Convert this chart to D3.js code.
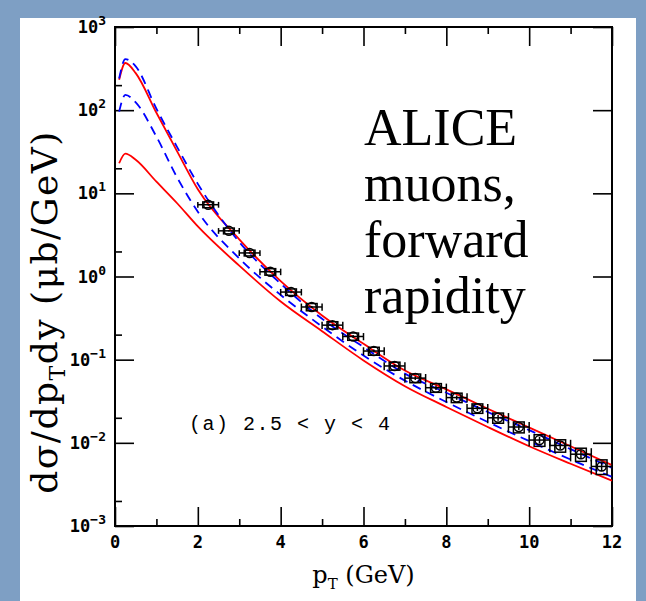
<!DOCTYPE html>
<html>
<head>
<meta charset="utf-8">
<script src="https://cdn.jsdelivr.net/npm/d3@7"></script>
<style>
  body { margin: 0; background: #fff; }
  svg { display: block; }
</style>
</head>
<body>
<script>
// theory curves (pT grid) and ALICE data
const ptCurve   = [0.1, 0.25, 0.5, 1, 1.5, 2, 3, 4, 5, 6, 7, 8, 9, 10, 11, 12];
const redUpper  = [232, 369, 279, 93, 32, 11.2, 2.8, 0.88, 0.34, 0.155, 0.074, 0.044, 0.0257, 0.0153, 0.0091, 0.0054];
const redLower  = [23, 30, 25.3, 13.8, 7.6, 4.0, 1.35, 0.5, 0.22, 0.098, 0.048, 0.027, 0.0155, 0.0091, 0.0056, 0.0035];
const blueUpper = [240, 412, 336, 104, 36, 13, 2.6, 0.82, 0.31, 0.142, 0.068, 0.040, 0.0235, 0.0142, 0.0084, 0.0050];
const blueLower = [96, 153, 124, 48, 15.5, 6, 1.65, 0.6, 0.25, 0.112, 0.056, 0.031, 0.0178, 0.0105, 0.0063, 0.0039];

const ptData  = [2.25, 2.75, 3.25, 3.75, 4.25, 4.75, 5.25, 5.75, 6.25, 6.75, 7.25, 7.75, 8.25, 8.75, 9.25, 9.75, 10.25, 10.75, 11.25, 11.75];
const xsData  = [7.3, 3.54, 1.92, 1.14, 0.65, 0.43, 0.26, 0.19, 0.127, 0.084, 0.060, 0.046, 0.035, 0.026, 0.020, 0.0155, 0.0108, 0.0093, 0.0073, 0.0052];
const sysRel  = [0.08, 0.08, 0.08, 0.09, 0.09, 0.1, 0.1, 0.1, 0.11, 0.11, 0.12, 0.12, 0.13, 0.13, 0.14, 0.15, 0.16, 0.17, 0.18, 0.2];
const statRel = [0.02, 0.02, 0.02, 0.02, 0.03, 0.03, 0.03, 0.04, 0.04, 0.05, 0.05, 0.06, 0.06, 0.07, 0.08, 0.08, 0.09, 0.1, 0.11, 0.12];

const xTicks = [0, 2, 4, 6, 8, 10, 12];
const xMinor = [1, 3, 5, 7, 9, 11];
const yExp   = [-3, -2, -1, 0, 1, 2, 3];

const width = 646, height = 601;
const margin = {top: 27, right: 34, bottom: 75, left: 115};

const svg = d3.select('body').append('svg')
  .attr('width', width)
  .attr('height', height);

// slide background
svg.append('rect').attr('width', width).attr('height', height).attr('fill', '#7e9fc4');
svg.append('rect').attr('x', 20).attr('y', 18).attr('width', 616).attr('height', height - 18).attr('fill', '#fff');

const x = d3.scaleLinear().domain([0, 12]).range([margin.left, width - margin.right]);
const y = d3.scaleLog().domain([1e-3, 1e3]).range([height - margin.bottom, margin.top]);

const yMajor = yExp.map(e => Math.pow(10, e));
const yMinor = yExp.slice(0, -1).map(e => 2 * Math.pow(10, e));

const tickStyle = g => g.call(s => s.select('.domain').remove())
  .selectAll('line').attr('stroke', '#000').attr('stroke-width', 1.6);

// ticks on the four sides (inward)
svg.append('g').attr('transform', `translate(0,${y(1e-3)})`)
  .call(d3.axisBottom(x).tickValues(xTicks).tickSize(-19).tickFormat('')).call(tickStyle);
svg.append('g').attr('transform', `translate(0,${y(1e-3)})`)
  .call(d3.axisBottom(x).tickValues(xMinor).tickSize(-7).tickFormat('')).call(tickStyle);
svg.append('g').attr('transform', `translate(0,${y(1e3)})`)
  .call(d3.axisTop(x).tickValues(xTicks).tickSize(-19).tickFormat('')).call(tickStyle);
svg.append('g').attr('transform', `translate(0,${y(1e3)})`)
  .call(d3.axisTop(x).tickValues(xMinor).tickSize(-7).tickFormat('')).call(tickStyle);
svg.append('g').attr('transform', `translate(${x(0)},0)`)
  .call(d3.axisLeft(y).tickValues(yMajor).tickSize(-19).tickFormat('')).call(tickStyle);
svg.append('g').attr('transform', `translate(${x(0)},0)`)
  .call(d3.axisLeft(y).tickValues(yMinor).tickSize(-7).tickFormat('')).call(tickStyle);
svg.append('g').attr('transform', `translate(${x(12)},0)`)
  .call(d3.axisRight(y).tickValues(yMajor).tickSize(-19).tickFormat('')).call(tickStyle);

// frame
svg.append('rect')
  .attr('x', x(0)).attr('y', y(1e3))
  .attr('width', x(12) - x(0)).attr('height', y(1e-3) - y(1e3))
  .attr('fill', 'none').attr('stroke', '#000').attr('stroke-width', 2);

// tick labels
const tickFont = 'DejaVu Sans Mono, monospace';
svg.append('g').selectAll('text').data(xTicks).join('text')
  .attr('x', d => x(d)).attr('y', y(1e-3) + 22)
  .attr('text-anchor', 'middle')
  .attr('font-family', tickFont).attr('font-weight', 'bold').attr('font-size', 17)
  .text(d => d);

const yl = svg.append('g').selectAll('text').data(yExp).join('text')
  .attr('x', x(0) - 9).attr('y', d => y(Math.pow(10, d)) + 6)
  .attr('text-anchor', 'end')
  .attr('font-family', tickFont).attr('font-weight', 'bold').attr('font-size', 17);
yl.append('tspan').text('10');
yl.append('tspan').attr('dy', -8).attr('font-size', 13)
  .text(d => d < 0 ? '\u2212' + (-d) : d);

// theory curves
const line = d3.line().x(d => x(d[0])).y(d => y(d[1])).curve(d3.curveMonotoneX);
const curves = [
  {vals: redUpper,  color: '#ff0000', dash: null},
  {vals: redLower,  color: '#ff0000', dash: null},
  {vals: blueUpper, color: '#0000ff', dash: '9,6'},
  {vals: blueLower, color: '#0000ff', dash: '9,6'},
];
svg.append('g').selectAll('path').data(curves).join('path')
  .attr('d', c => line(ptCurve.map((p, i) => [p, c.vals[i]])))
  .attr('fill', 'none')
  .attr('stroke', c => c.color)
  .attr('stroke-width', 1.8)
  .attr('stroke-dasharray', c => c.dash);

// data points
const pts = ptData.map((p, i) => ({p, v: xsData[i], sys: sysRel[i], stat: statRel[i]}));
const dg = svg.append('g').attr('stroke', '#000').attr('fill', 'none').attr('stroke-width', 1.5);
const pt = dg.selectAll('g').data(pts).join('g');
// horizontal bin bar with end caps
pt.append('line')
  .attr('x1', d => x(d.p - 0.25)).attr('x2', d => x(d.p + 0.25))
  .attr('y1', d => y(d.v)).attr('y2', d => y(d.v));
pt.append('line')
  .attr('x1', d => x(d.p - 0.25)).attr('x2', d => x(d.p - 0.25))
  .attr('y1', d => y(d.v * (1 + d.sys))).attr('y2', d => y(d.v * (1 - d.sys)));
pt.append('line')
  .attr('x1', d => x(d.p + 0.25)).attr('x2', d => x(d.p + 0.25))
  .attr('y1', d => y(d.v * (1 + d.sys))).attr('y2', d => y(d.v * (1 - d.sys)));
// systematic box
pt.append('rect')
  .attr('x', d => x(d.p - 0.13)).attr('width', d => x(d.p + 0.13) - x(d.p - 0.13))
  .attr('y', d => y(d.v * (1 + d.sys))).attr('height', d => y(d.v * (1 - d.sys)) - y(d.v * (1 + d.sys)));
// statistical bar
pt.append('line')
  .attr('x1', d => x(d.p)).attr('x2', d => x(d.p))
  .attr('y1', d => y(d.v * (1 + d.stat))).attr('y2', d => y(d.v * (1 - d.stat)));
pt.append('circle')
  .attr('cx', d => x(d.p)).attr('cy', d => y(d.v)).attr('r', 4.5);

// labels
svg.append('text')
  .attr('x', 189).attr('y', 430)
  .attr('font-family', 'Liberation Mono, monospace').attr('font-size', 20)
  .attr('letter-spacing', 1.5)
  .text('(a) 2.5 < y < 4');

const big = svg.append('text')
  .attr('font-family', 'Liberation Serif, serif').attr('font-size', 52);
['ALICE', 'muons,', 'forward', 'rapidity'].forEach((t, i) => {
  big.append('tspan').attr('x', 364).attr('y', 145 + i * 56).text(t);
});

// axis titles
const xt = svg.append('text')
  .attr('x', (x(0) + x(12)) / 2).attr('y', 583)
  .attr('text-anchor', 'middle')
  .attr('font-family', 'DejaVu Serif, serif').attr('font-size', 24);
xt.append('tspan').text('p');
xt.append('tspan').attr('font-size', 15).attr('dy', 6).text('T');
xt.append('tspan').attr('dy', -6).text(' (GeV)');

const yt = svg.append('text')
  .attr('transform', `translate(57,312) rotate(-90)`)
  .attr('text-anchor', 'middle')
  .attr('font-family', 'DejaVu Serif, serif').attr('font-size', 36)
  .attr('letter-spacing', 1.5);
yt.append('tspan').text('d\u03c3/dp');
yt.append('tspan').attr('font-size', 22).attr('dy', 8).text('T');
yt.append('tspan').attr('dy', -8).text('dy (\u03bcb/GeV)');
</script>
</body>
</html>
